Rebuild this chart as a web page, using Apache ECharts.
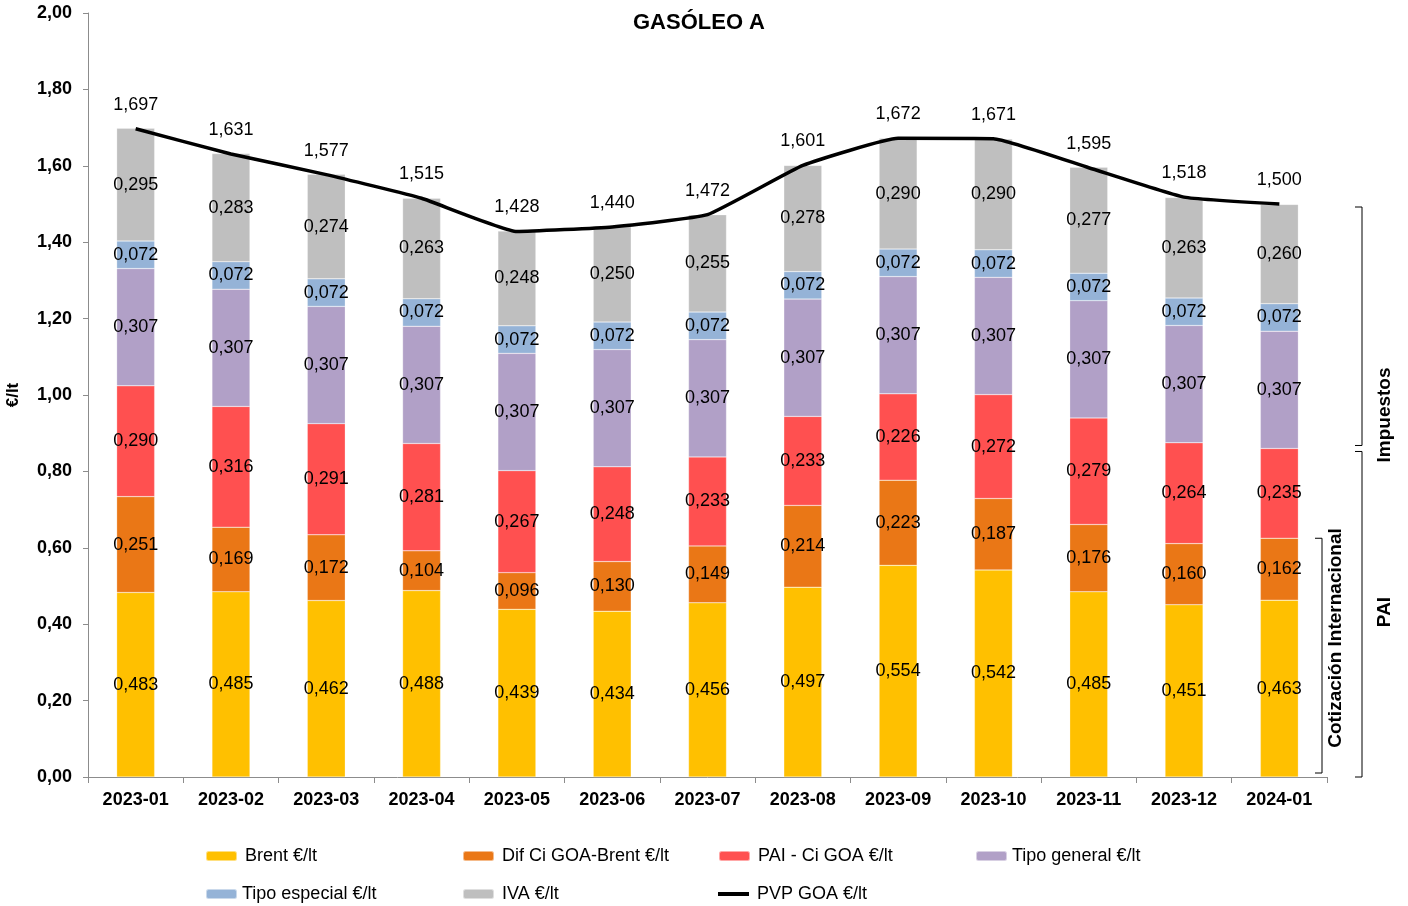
<!DOCTYPE html>
<html><head><meta charset="utf-8">
<script src="https://cdn.jsdelivr.net/npm/echarts@6/dist/echarts.min.js"></script>
<style>html,body{margin:0;padding:0;background:#fff}#c{width:1408px;height:906px}</style>
</head><body><div id="c"></div>
<script>
const categories = ['2023-01','2023-02','2023-03','2023-04','2023-05','2023-06','2023-07','2023-08','2023-09','2023-10','2023-11','2023-12','2024-01'];
const brent = [0.483,0.485,0.462,0.488,0.439,0.434,0.456,0.497,0.554,0.542,0.485,0.451,0.463];
const difCi = [0.251,0.169,0.172,0.104,0.096,0.130,0.149,0.214,0.223,0.187,0.176,0.160,0.162];
const paiCi = [0.290,0.316,0.291,0.281,0.267,0.248,0.233,0.233,0.226,0.272,0.279,0.264,0.235];
const tipoGeneral = [0.307,0.307,0.307,0.307,0.307,0.307,0.307,0.307,0.307,0.307,0.307,0.307,0.307];
const tipoEspecial = [0.072,0.072,0.072,0.072,0.072,0.072,0.072,0.072,0.072,0.072,0.072,0.072,0.072];
const iva = [0.295,0.283,0.274,0.263,0.248,0.250,0.255,0.278,0.290,0.290,0.277,0.263,0.260];
const pvp = [1.697,1.631,1.577,1.515,1.428,1.440,1.472,1.601,1.672,1.671,1.595,1.518,1.500];
const seriesNames = ['Brent €/lt','Dif Ci GOA-Brent €/lt','PAI - Ci GOA €/lt','Tipo general €/lt','Tipo especial €/lt','IVA €/lt','PVP GOA €/lt'];

const FONT = 'Arial, "Liberation Sans", sans-serif';
const colors = ['#FFC000','#EA7716','#FF5050','#B1A0C7','#95B3D7','#BFBFBF'];
const fmt3 = v => v.toFixed(3).replace('.', ',');
const barData = [brent, difCi, paiCi, tipoGeneral, tipoEspecial, iva];

const chart = echarts.init(document.getElementById('c'));

const barSeries = barData.map((d, i) => ({
  name: seriesNames[i], type: 'bar', stack: 'total', barWidth: 38, data: d,
  itemStyle: {color: colors[i], borderColor: 'rgba(255,255,255,0.5)', borderWidth: 0.5},
  label: {show: true, position: 'inside', color: '#000', fontSize: 18, fontFamily: FONT,
    formatter: p => fmt3(p.value)},
  labelLayout: {hideOverlap: false},
  emphasis: {disabled: true}
}));

const legendPos = [[200,842],[457,842],[713,842],[970,842],[200,880],[457,880],[713,880]];
const legendPad = [3,3,3,0,0,3,3];
const legends = seriesNames.map((n, i) => ({
  data: [i === 6 ? {name: n, icon: 'rect'} : n],
  left: legendPos[i][0], top: legendPos[i][1], itemWidth: 31, itemHeight: i === 6 ? 4 : 10,
  itemGap: 0, selectedMode: false,
  textStyle: {fontSize: 18, fontFamily: FONT, color: '#000', padding: [0,0,0,legendPad[i]]}
}));

chart.setOption({
  animation: false,
  title: {text: 'GASÓLEO A', left: 628, top: 7,
    textStyle: {fontSize: 22, fontWeight: 'bold', fontFamily: FONT, color: '#000'}},
  legend: legends,
  grid: {left: 88, right: 81, top: 13, bottom: 129, outerBoundsMode: 'none', containLabel: false},
  xAxis: {type: 'category', data: categories,
    axisLine: {lineStyle: {color: '#8C8C8C'}},
    axisTick: {show: true, lineStyle: {color: '#8C8C8C'}, length: 6},
    axisLabel: {fontSize: 18, fontWeight: 'bold', fontFamily: FONT, color: '#000', margin: 14}},
  yAxis: {type: 'value', min: 0, max: 2, interval: 0.2,
    name: '€/lt', nameLocation: 'middle', nameGap: 66, nameRotate: 90,
    nameTextStyle: {fontSize: 17, fontWeight: 'bold', fontFamily: FONT, color: '#000'},
    axisLine: {show: true, lineStyle: {color: '#8C8C8C'}},
    axisTick: {show: true, lineStyle: {color: '#8C8C8C'}, length: 5},
    splitLine: {show: false},
    axisLabel: {fontSize: 18, fontWeight: 'bold', fontFamily: FONT, color: '#000', margin: 16,
      formatter: v => v.toFixed(2).replace('.', ',')}},
  series: barSeries.concat([{
    name: seriesNames[6], type: 'line', data: pvp, symbol: 'circle', symbolSize: 0.1, showSymbol: true,
    smooth: 0.12,
    lineStyle: {color: '#000', width: 3.5}, itemStyle: {color: '#000'},
    label: {show: true, position: 'top', distance: 15, color: '#000', fontSize: 18, fontFamily: FONT,
      formatter: p => fmt3(p.value)},
    labelLayout: {hideOverlap: false},
    emphasis: {disabled: true}, z: 5
  }])
});

// brackets on the right, anchored to the last bar's stacked values
const last = categories.length - 1;
const paiTop = brent[last] + difCi[last] + paiCi[last];
const ciTop = brent[last] + difCi[last];
const y = v => chart.convertToPixel({yAxisIndex: 0}, v);
const y0 = y(0), yTot = y(pvp[last]), yPai = y(paiTop), yCi = y(ciTop);
const bx = 1362, cx = 1322;
const lineStyle = {stroke: '#000', lineWidth: 1, fill: null};
function bracket(x, top, bottom) {
  return {type: 'polyline', shape: {points: [[x-7, top],[x, top],[x, bottom],[x-7, bottom]]}, style: lineStyle, silent: true};
}
const txt = (t, x, yy) => ({type: 'text', x: x, y: yy, rotation: Math.PI/2,
  style: {text: t, fontSize: 19, fontWeight: 'bold', fontFamily: FONT, fill: '#000', align: 'center', verticalAlign: 'middle'}});
chart.setOption({graphic: [
  bracket(bx, yTot + 3, yPai - 3),
  bracket(bx, yPai + 3, y0),
  bracket(cx, yCi, y0 - 4),
  txt('Impuestos', 1385, 415),
  txt('PAI', 1385, 612),
  txt('Cotización Internacional', 1336, 638)
]});
</script>
</body></html>
